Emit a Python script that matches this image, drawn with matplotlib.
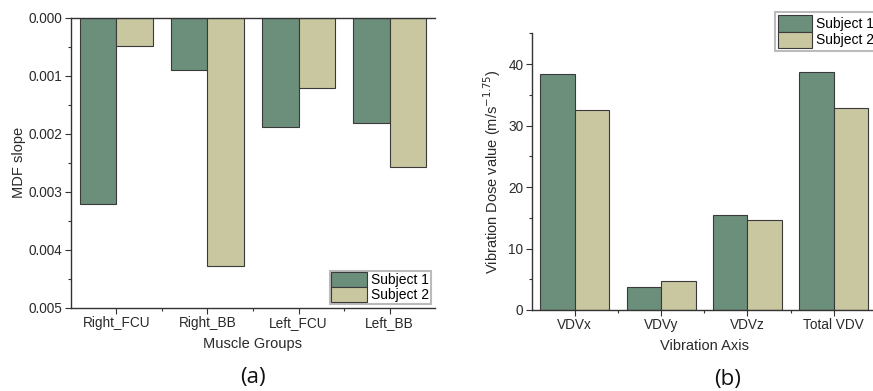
import matplotlib
matplotlib.use("Agg")
import matplotlib.pyplot as plt
import numpy as np
from matplotlib.ticker import MultipleLocator, FixedLocator

plt.rcParams['font.family'] = ['Liberation Sans', 'DejaVu Sans']

muscles = ["Right_FCU", "Right_BB", "Left_FCU", "Left_BB"]
mdf_s1 = [0.0032, 0.00089, 0.00188, 0.00182]
mdf_s2 = [0.00048, 0.00427, 0.00121, 0.00257]

axes_b = ["VDVx", "VDVy", "VDVz", "Total VDV"]
vdv_s1 = [38.4, 3.8, 15.4, 38.7]
vdv_s2 = [32.6, 4.75, 14.6, 32.85]

series_names = ["Subject 1", "Subject 2"]
c1 = "#6c8f7c"
c2 = "#c9c7a0"
ec = "#3a3a3a"
tc = "#2a2a2a"

fig = plt.figure(figsize=(8.73, 3.91), dpi=100)

def style(ax):
    ax.spines['right'].set_visible(False)
    for s in ['left', 'bottom', 'top']:
        ax.spines[s].set_linewidth(1.0)
        ax.spines[s].set_color('#333333')
    ax.tick_params(axis='both', which='major', direction='out', length=4, width=0.8,
                   labelsize=9.8, colors='#333333', labelcolor=tc, pad=2)
    ax.tick_params(axis='both', which='minor', direction='out', length=2, width=0.8, colors='#333333')
    ax.tick_params(top=False, right=False)

# Panel (a)
axa = fig.add_axes([0.0813, 0.2123, 0.417, 0.742])
x = np.arange(len(muscles))
w = 0.4
axa.bar(x - w/2, mdf_s1, w, color=c1, edgecolor=ec, linewidth=0.8, label=series_names[0])
axa.bar(x + w/2, mdf_s2, w, color=c2, edgecolor=ec, linewidth=0.8, label=series_names[1])
axa.set_xlim(-0.5, 3.5)
axa.set_ylim(0.005, 0.0)
axa.set_yticks([0, 0.001, 0.002, 0.003, 0.004, 0.005])
axa.set_yticklabels(["0.000", "0.001", "0.002", "0.003", "0.004", "0.005"])
axa.yaxis.set_minor_locator(MultipleLocator(0.0005))
axa.set_xticks(x)
axa.set_xticklabels(muscles)
axa.xaxis.set_minor_locator(FixedLocator(x[:-1] + 0.5))
style(axa)
axa.set_ylabel("MDF slope", fontsize=10.5, labelpad=2, color=tc)
axa.set_xlabel("Muscle Groups", fontsize=10.5, labelpad=5, color=tc)
leg = axa.legend(loc='lower right', fontsize=10, frameon=True, fancybox=False,
                 borderaxespad=0.3, borderpad=0.1, handlelength=2.6, handleheight=1.3,
                 handletextpad=0.3, labelspacing=0.0)
leg.get_frame().set_edgecolor('#aaaaaa')
leg.get_frame().set_linewidth(1.5)
fig.text(253/873, 1 - 378/391, "(a)", fontsize=16, family=['Open Sans', 'DejaVu Sans'],
         ha='center', va='center', color='#111111')

# Panel (b)
axb = fig.add_axes([0.609, 0.2072, 0.3955, 0.7076])
xb = np.arange(len(axes_b))
axb.bar(xb - w/2, vdv_s1, w, color=c1, edgecolor=ec, linewidth=0.8, label=series_names[0])
axb.bar(xb + w/2, vdv_s2, w, color=c2, edgecolor=ec, linewidth=0.8, label=series_names[1])
axb.set_xlim(-0.5, 3.5)
axb.set_ylim(0, 45)
axb.set_yticks([0, 10, 20, 30, 40])
axb.yaxis.set_minor_locator(MultipleLocator(5))
axb.set_xticks(xb)
axb.set_xticklabels(axes_b)
axb.xaxis.set_minor_locator(FixedLocator(xb[:-1] + 0.5))
style(axb)
axb.spines['top'].set_visible(False)
axb.set_ylabel("Vibration Dose value (m/s$^{-1.75}$)", fontsize=10.5, labelpad=4, color=tc)
axb.set_xlabel("Vibration Axis", fontsize=10.5, labelpad=5, color=tc)
legb = fig.legend(handles=axb.containers, labels=series_names, loc='upper left',
                  bbox_to_anchor=(775/873, 1 - 12/391), fontsize=10, frameon=True, fancybox=False,
                  borderaxespad=0.0, borderpad=0.25, handlelength=2.4, handleheight=1.4,
                  handletextpad=0.3, labelspacing=0.0)
legb.get_frame().set_edgecolor('#aaaaaa')
legb.get_frame().set_linewidth(1.5)
fig.text(728/873, 1 - 380/391, "(b)", fontsize=16, family=['Open Sans', 'DejaVu Sans'],
         ha='center', va='center', color='#111111')

fig.savefig("out.png", dpi=100)
